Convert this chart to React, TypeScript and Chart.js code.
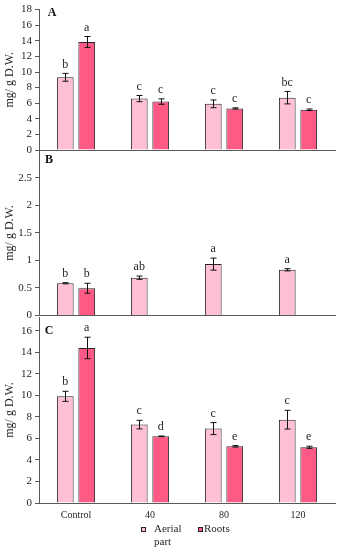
import React, { useEffect, useRef } from 'react';
import { Chart, registerables } from 'chart.js';
Chart.register(...registerables);

const categories = ['Control', '40', '80', '120'];

// Panel A
const aerialA = [9.32, 6.59, 5.92, 6.71];
const aerialAErr = [0.5, 0.4, 0.5, 0.8];
const aerialALetters = ['b', 'c', 'c', 'bc'];
const rootsA = [13.85, 6.21, 5.33, 5.16];
const rootsAErr = [0.7, 0.35, 0.08, 0.1];
const rootsALetters = ['a', 'c', 'c', 'c'];

// Panel B
const aerialB = [0.585, 0.686, 0.933, 0.83];
const aerialBErr = [0.01, 0.03, 0.11, 0.02];
const aerialBLetters = ['b', 'ab', 'a', 'a'];
const rootsB = [0.494, null, null, null];
const rootsBErr = [0.09, 0, 0, 0];
const rootsBLetters = ['b', '', '', ''];

// Panel C
const aerialC = [9.92, 7.29, 6.92, 7.75];
const aerialCErr = [0.47, 0.4, 0.56, 0.87];
const aerialCLetters = ['b', 'c', 'c', 'c'];
const rootsC = [14.42, 6.2, 5.27, 5.18];
const rootsCErr = [1.0, 0.03, 0.07, 0.1];
const rootsCLetters = ['a', 'd', 'e', 'e'];

const AERIAL = '#FFC0D3';
const ROOTS = '#FF5A86';
const BORDER = '#262626';
const AXIS = '#595959';
const TEXT = '#262626';
const SERIF = '"Liberation Serif", "Times New Roman", serif';

const errorPlugin = {
  id: 'errLetters',
  afterDatasetsDraw(chart: any) {
    const ctx = chart.ctx;
    const y = chart.scales.y;
    chart.data.datasets.forEach((ds: any, di: number) => {
      const meta = chart.getDatasetMeta(di);
      meta.data.forEach((bar: any, i: number) => {
        const v = ds.data[i];
        if (v === null || v === undefined) return;
        const e = ds.errors[i] || 0;
        const yt = y.getPixelForValue(v + e);
        const yb = y.getPixelForValue(v - e);
        const x = Math.round(bar.x) + 0.5;
        ctx.save();
        ctx.strokeStyle = '#111';
        ctx.lineWidth = 1;
        ctx.beginPath();
        ctx.moveTo(x, yt);
        ctx.lineTo(x, yb);
        ctx.moveTo(x - 3, yt);
        ctx.lineTo(x + 3, yt);
        ctx.moveTo(x - 3, yb);
        ctx.lineTo(x + 3, yb);
        ctx.stroke();
        const L = ds.letters[i];
        if (L) {
          ctx.fillStyle = TEXT;
          ctx.font = `12px ${SERIF}`;
          ctx.textAlign = 'center';
          ctx.textBaseline = 'middle';
          ctx.fillText(L, bar.x, yt - 9);
        }
        ctx.restore();
      });
    });
  },
};

function makePanelLabel(text: string, px: number, py: number) {
  return {
    id: 'panelLabel',
    afterDraw(chart: any) {
      const ctx = chart.ctx;
      ctx.save();
      ctx.fillStyle = '#111';
      ctx.font = `bold 12px ${SERIF}`;
      ctx.textAlign = 'center';
      ctx.textBaseline = 'middle';
      ctx.fillText(text, px, py);
      ctx.restore();
    },
  };
}

type PanelProps = {
  top: number;
  height: number;
  padTop: number;
  padBottom: number;
  yMax: number;
  step: number;
  showX: boolean;
  xHeight: number;
  aerial: (number | null)[];
  aerialErr: number[];
  aerialLetters: string[];
  roots: (number | null)[];
  rootsErr: number[];
  rootsLetters: string[];
  label: string;
  labelX: number;
  labelY: number;
};

function Panel(p: PanelProps) {
  const ref = useRef<HTMLCanvasElement>(null);
  useEffect(() => {
    const chart = new Chart(ref.current!, {
      type: 'bar',
      data: {
        labels: categories,
        datasets: [
          {
            label: 'Aerial part',
            data: p.aerial,
            backgroundColor: AERIAL,
            borderColor: BORDER,
            borderWidth: 1,
            errors: p.aerialErr,
            letters: p.aerialLetters,
          } as any,
          {
            label: 'Roots',
            data: p.roots,
            backgroundColor: ROOTS,
            borderColor: BORDER,
            borderWidth: 1,
            errors: p.rootsErr,
            letters: p.rootsLetters,
          } as any,
        ],
      },
      options: {
        animation: false,
        responsive: false,
        layout: { padding: { top: p.padTop, bottom: p.padBottom, left: 0, right: 6 } },
        datasets: { bar: { categoryPercentage: 0.58, barPercentage: 0.78 } },
        plugins: { legend: { display: false }, tooltip: { enabled: false } },
        scales: {
          x: {
            grid: { display: false, drawTicks: false, tickLength: 0 },
            border: { display: true, color: AXIS, width: 1 },
            ticks: { display: p.showX, padding: 6, color: TEXT, font: { family: SERIF, size: 10 } },
            afterFit: (s: any) => {
              s.height = p.xHeight;
            },
          },
          y: {
            min: 0,
            max: p.yMax,
            ticks: {
              stepSize: p.step,
              includeBounds: false,
              autoSkip: false,
              padding: 3,
              color: TEXT,
              font: { family: SERIF, size: 11 },
              callback: (v: any) => {
                const n = Number(v);
                if (n > p.yMax - 1e-9 && p.label === 'B') return '';
                const r = Math.round(n / p.step);
                if (Math.abs(r * p.step - n) > 1e-6) return '';
                return String(Math.round(n * 100) / 100);
              },
            },
            grid: { drawOnChartArea: false, drawTicks: true, tickLength: 4, color: AXIS },
            border: { display: true, color: AXIS, width: 1 },
            title: {
              display: true,
              text: 'mg/ g D.W.',
              color: TEXT,
              font: { family: SERIF, size: 12 },
              padding: { top: 3, bottom: 0 },
            },
            afterFit: (s: any) => {
              s.width = 39;
            },
          },
        },
      } as any,
      plugins: [errorPlugin, makePanelLabel(p.label, p.labelX, p.labelY - p.top)],
    });
    return () => chart.destroy();
  }, []);
  return (
    <canvas
      ref={ref}
      width={341}
      height={p.height}
      style={{ position: 'absolute', left: 0, top: p.top, width: 341, height: p.height }}
    />
  );
}

export default function App() {
  return (
    <div style={{ position: 'absolute', left: 0, top: 0, width: 341, height: 550, background: '#fff' }}>
      <Panel
        top={0}
        height={160}
        padTop={7}
        padBottom={10}
        yMax={18}
        step={2}
        showX={false}
        xHeight={0}
        aerial={aerialA}
        aerialErr={aerialAErr}
        aerialLetters={aerialALetters}
        roots={rootsA}
        rootsErr={rootsAErr}
        rootsLetters={rootsALetters}
        label="A"
        labelX={52}
        labelY={13}
      />
      <Panel
        top={140}
        height={185}
        padTop={10.5}
        padBottom={8}
        yMax={3}
        step={0.5}
        showX={false}
        xHeight={0}
        aerial={aerialB}
        aerialErr={aerialBErr}
        aerialLetters={aerialBLetters}
        roots={rootsB}
        rootsErr={rootsBErr}
        rootsLetters={rootsBLetters}
        label="B"
        labelX={49}
        labelY={160}
      />
      <Panel
        top={307}
        height={243}
        padTop={10}
        padBottom={17}
        yMax={17.3}
        step={2}
        showX={true}
        xHeight={30}
        aerial={aerialC}
        aerialErr={aerialCErr}
        aerialLetters={aerialCLetters}
        roots={rootsC}
        rootsErr={rootsCErr}
        rootsLetters={rootsCLetters}
        label="C"
        labelX={49}
        labelY={331}
      />
      <div
        style={{
          position: 'absolute',
          left: 141,
          top: 527,
          width: 5,
          height: 5,
          background: AERIAL,
          border: `1px solid ${BORDER}`,
          boxSizing: 'border-box',
        }}
      />
      <div
        style={{
          position: 'absolute',
          left: 154,
          top: 522,
          fontFamily: SERIF,
          fontSize: 11,
          lineHeight: '13px',
          color: TEXT,
        }}
      >
        Aerial
        <br />
        part
      </div>
      <div
        style={{
          position: 'absolute',
          left: 198,
          top: 527,
          width: 5,
          height: 5,
          background: ROOTS,
          border: `1px solid ${BORDER}`,
          boxSizing: 'border-box',
        }}
      />
      <div
        style={{
          position: 'absolute',
          left: 204,
          top: 522,
          fontFamily: SERIF,
          fontSize: 11,
          lineHeight: '13px',
          color: TEXT,
        }}
      >
        Roots
      </div>
    </div>
  );
}
